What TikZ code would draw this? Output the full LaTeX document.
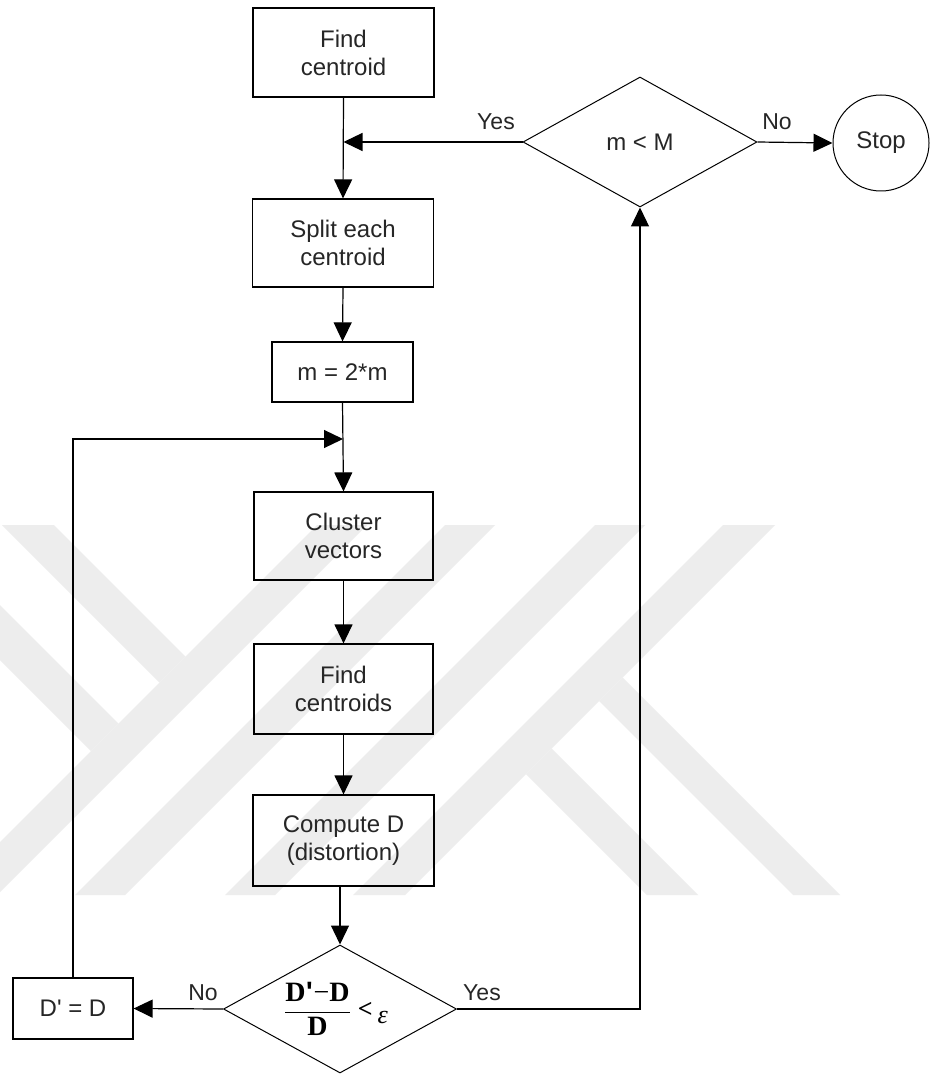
\documentclass[tikz,border=0pt]{standalone}
\usepackage{fontspec}
\setmainfont{Liberation Sans}
\newfontfamily\tnr{Liberation Serif}
\newfontfamily\sansq{Liberation Sans}[Ligatures=TeXOff]
\usetikzlibrary{shapes.geometric,arrows.meta,calc}
\begin{document}
\begin{tikzpicture}[x=1pt,y=-1pt,
  every node/.style={font=\fontsize{24}{28}\selectfont, text=black!85},
  box/.style={draw, line width=1.2pt, minimum width=181pt, minimum height=89pt, align=center, inner sep=0pt},
  dec/.style={draw, line width=1pt, diamond, inner sep=0pt},
  conn/.style={line width=1.2pt},
  arr/.style={conn, -{Triangle[length=19pt,width=18pt]}},
  lbl/.style={inner sep=0pt, font=\fontsize{23}{27}\selectfont},
  wm/.style={fill=black!7, draw=none}]
\useasboundingbox (0,0) rectangle (929,1075);
\fill[white] (0,0) rectangle (929,1075);
% watermark
\begin{scope}
\clip (0,525) rectangle (929,895);
% left logo: two "/" strokes
\fill[wm] (842-525,525) -- (892-525,525) -- (892-895,895) -- (842-895,895) -- cycle;
\fill[wm] (970-525,525) -- (1020-525,525) -- (1020-895,895) -- (970-895,895) -- cycle;
% left logo: two "\" strokes
\fill[wm] (54,525) -- (2,525) -- (159.5,682.5) -- (185.5,656.5) -- cycle;
\fill[wm] (-80,525) -- (-135,525) -- (91,751) -- (118.5,723.5) -- cycle;
% right logo: two "/" strokes
\fill[wm] (1120-525,525) -- (1170-525,525) -- (1170-895,895) -- (1120-895,895) -- cycle;
\fill[wm] (1248-525,525) -- (1300-525,525) -- (1300-895,895) -- (1248-895,895) -- cycle;
% right logo: two "\" strokes
\fill[wm] (622.5,677.5) -- (840,895) -- (793,895) -- (599,701) -- cycle;
\fill[wm] (551.5,748.5) -- (698,895) -- (647,895) -- (526,774) -- cycle;
\end{scope}
% nodes
\node[box] (fc) at (343.5,52.5) {Find\\centroid};
\node[box, minimum height=88pt] (sp) at (343,243) {Split each\\centroid};
\node[box, minimum width=141pt, minimum height=60pt] (m2) at (342.5,372) {m = 2*m};
\node[box, minimum width=179pt, minimum height=88pt] (cv) at (343.5,536) {Cluster\\vectors};
\node[box, minimum width=179pt, minimum height=90pt] (fcs) at (343.5,689) {Find\\centroids};
\node[box, minimum height=91pt] (cd) at (343.5,840.5) {Compute D\\(distortion)};
\node[dec, minimum width=233pt, minimum height=128pt] (d2) at (340,1009) {};
\node[inner sep=0pt, text=black, font=\fontsize{28}{32}\selectfont] (frac) at (336,1009) {$\displaystyle\frac{\hbox{\tnr\bfseries D\kern0.5pt{\sansq\bfseries '}\kern1pt\raise0.5pt\hbox{\normalfont\tnr\char"2212}D}}{\hbox{\tnr\bfseries D\vphantom{D'}}}$\kern7pt\raise1pt\hbox{\tnr\bfseries\fontsize{26}{28}\selectfont<}\kern5pt\raise-5pt\hbox{\tnr\itshape\fontsize{26}{28}\selectfont ε}};
\node[box, minimum width=120pt, minimum height=61pt] (dd) at (73,1008.5) {D{\sansq '} = D};
\node[dec, minimum width=234pt, minimum height=130pt] (d1) at (640,142) {m < M};
\node[draw, circle, line width=1pt, minimum size=96pt, inner sep=0pt] (stop) at (881,143) {Stop};
% junction points
\coordinate (j1) at (fc.south |- d1.west);
\coordinate (j2) at (343,439);
\coordinate (c1) at (d1.south |- d2.east);
% connectors
\draw[arr] (fc.south) -- (sp.north);
\draw[arr] (d1.west) -- (j1);
\draw[arr] (d1.east) -- (stop.west);
\draw[arr] (sp.south) -- (m2.north);
\draw[arr] (m2.south) -- (cv.north);
\draw[arr] (dd.north) |- (j2);
\draw[arr] (cv.south) -- (fcs.north);
\draw[arr] (fcs.south) -- (cd.north);
\draw[arr] (cd.south -| d2.north) -- (d2.north);
\draw[arr] (d2.west) -- (dd.east);
\draw[arr] (d2.east) -- (c1) -- (d1.south);
% labels
\node[lbl] (y1) at (496,122) {Yes};
\node[lbl] (n1) at (777,122) {No};
\node[lbl] (n2) at (203,993) {No};
\node[lbl] (y2) at (482,993) {Yes};
\end{tikzpicture}
\end{document}
